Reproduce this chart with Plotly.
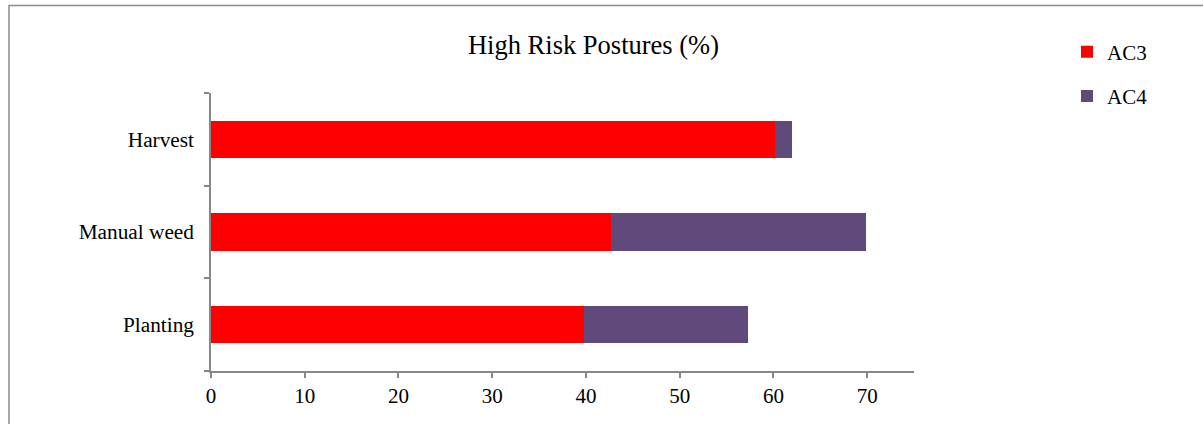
import plotly.graph_objects as go

# Activities (bottom to top) and share of high-risk postures per action category
activities = ["Planting", "Manual weed", "Harvest"]
ac3_values = [39.8, 42.7, 60.2]
ac4_values = [17.5, 27.2, 1.8]
x_ticks = [0, 10, 20, 30, 40, 50, 60, 70]

SERIF = "Liberation Serif, Times New Roman, serif"
AXIS_GREY = "#878787"

fig = go.Figure()
fig.add_trace(go.Bar(
    y=activities, x=ac3_values, name="AC3", orientation="h",
    marker=dict(color="#FF0000", line=dict(width=0)),
    legendgroup="ac3",
))
fig.add_trace(go.Bar(
    y=activities, x=ac4_values, name="AC4", orientation="h",
    marker=dict(color="#604A7B", line=dict(width=0)),
    legendgroup="ac4",
))

# plot area in pixels: x 211..914, y 93..371
L, R, T, B = 211, 914, 93, 371
W, H = 1203, 424
pw, ph = R - L, B - T

def px_x(p):
    return (p - L) / pw

def px_y(p):
    return (B - p) / ph

fig.update_layout(
    width=W, height=H,
    margin=dict(l=L, r=W - R, t=T, b=H - B, pad=0),
    paper_bgcolor="white", plot_bgcolor="white",
    barmode="stack", bargap=0.6,
    font=dict(family=SERIF, size=21, color="black"),
    title=dict(
        text="High Risk Postures (%)",
        x=593.5 / W, xanchor="center", xref="container",
        y=1 - 44.5 / H, yanchor="middle", yref="container",
        font=dict(family=SERIF, size=26.5, color="black"),
    ),
    xaxis=dict(
        range=[0, 75], tickvals=x_ticks, ticktext=[str(v) for v in x_ticks],
        showgrid=False, zeroline=False,
        showline=True, linecolor=AXIS_GREY, linewidth=1.5,
        ticks="outside", ticklen=5, tickcolor=AXIS_GREY, tickwidth=1.5,
        tickfont=dict(family=SERIF, size=21, color="black"),
        fixedrange=True,
    ),
    yaxis=dict(
        range=[-0.5, 2.5], categoryorder="array", categoryarray=activities,
        showgrid=False, zeroline=False,
        showline=True, linecolor=AXIS_GREY, linewidth=1.5,
        ticks="outside", ticklen=5, tickcolor=AXIS_GREY, tickwidth=1.5,
        tickson="boundaries", ticklabelstandoff=11,
        tickfont=dict(family=SERIF, size=21.3, color="black"),
        fixedrange=True,
    ),
    legend=dict(
        x=px_x(1067), xanchor="left",
        y=px_y(31.5), yanchor="top",
        traceorder="grouped", tracegroupgap=14,
        font=dict(family=SERIF, size=21, color="black"),
        bgcolor="rgba(0,0,0,0)", borderwidth=0,
        itemclick=False, itemdoubleclick=False,
    ),
    shapes=[
        # outer chart frame
        dict(type="rect", xref="paper", yref="paper",
             x0=px_x(9), x1=px_x(1270), y0=px_y(460), y1=px_y(5.5),
             line=dict(color="#8C8C8C", width=1.5), fillcolor="rgba(0,0,0,0)",
             layer="below"),
    ],
)

fig.write_html("out.html")
